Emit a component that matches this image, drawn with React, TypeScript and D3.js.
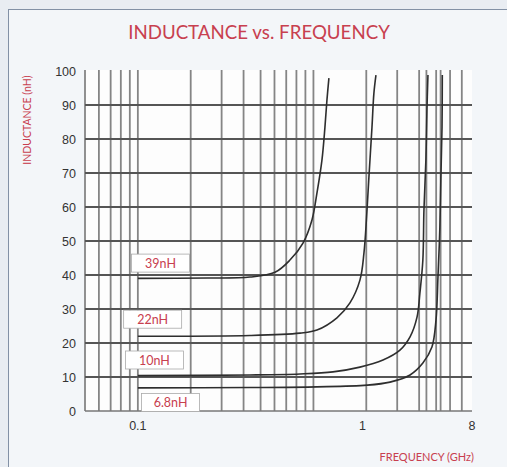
import React from "react";
import * as d3 from "d3";

// ---- data ----
const freq39 = [0.1, 0.25, 0.435, 0.604, 0.735, 0.872, 0.981, 1.047, 1.118, 1.163, 1.194, 1.225];
const val39 = [39, 39.1, 39.4, 40.8, 44.4, 49.4, 56.2, 64.1, 73.8, 83.5, 91.5, 97.9];

const freq22 = [0.1, 0.435, 0.838, 1.047, 1.361, 1.614, 1.84, 1.94, 2.01, 2.07, 2.155, 2.21, 2.27];
const val22 = [22, 22.2, 22.9, 23.8, 27.4, 31.8, 38.5, 46.5, 57.5, 68.8, 83.5, 93.5, 98.8];

const freq10 = [0.1, 0.435, 0.838, 1.292, 1.84, 2.49, 3.11, 3.55, 3.89, 4.04, 4.2, 4.26, 4.37, 4.43, 4.49];
const val10 = [10.4, 10.6, 10.9, 11.5, 12.9, 15, 17.9, 21.8, 27.6, 34.7, 44.4, 59.1, 73.8, 88.5, 98.8];

const freq68 = [0.1, 0.435, 1.047, 2.02, 2.73, 3.55, 4.2, 4.73, 4.99, 5.12, 5.25, 5.32, 5.4, 5.42];
const val68 = [6.8, 6.9, 7.1, 7.6, 8.5, 10.6, 14.1, 18.8, 26.8, 39.4, 54.1, 68.8, 83.5, 98.8];

const seriesNames = ["39nH", "22nH", "10nH", "6.8nH"];
// label anchor (left edge frequency, centre value)
const labelFreq = [0.092, 0.083, 0.085, 0.105];
const labelVal = [43.5, 27, 15, 2.5];

const yTicks = [0, 10, 20, 30, 40, 50, 60, 70, 80, 90, 100];
const yGrid = [10, 20, 30, 40, 50, 60, 70, 80, 90];
const xGrid = [0.05, 0.06, 0.07, 0.08, 0.09, 0.1, 0.2, 0.3, 0.4, 0.5, 0.6, 0.7, 0.8, 0.9, 1, 2, 3, 4, 4.4, 5, 5.3, 6, 7];
const xTickLabels = ["0.1", "1", "8"];
const xTickAt = [0.1, 1.9, 8];

export default function App() {
  const W = 507, H = 467;
  const x = d3.scaleLog().domain([0.05, 8]).range([85, 472]);
  const y = d3.scaleLinear().domain([0, 100]).range([411, 71]);
  const line = d3
    .line<[number, number]>()
    .x((d) => x(d[0]))
    .y((d) => y(d[1]))
    .curve(d3.curveCatmullRom.alpha(0.5));
  const series = [
    [freq39, val39],
    [freq22, val22],
    [freq10, val10],
    [freq68, val68],
  ].map(([f, v]) => f.map((fi, i) => [fi, v[i]] as [number, number]));

  const red = "#c8404f";
  const font = "'Liberation Sans', Arial, sans-serif";
  const titleFont = "Lato, 'Open Sans', sans-serif";

  return (
    <svg width={W} height={H} style={{ position: "absolute", left: 0, top: 0 }}>
      <rect x={0} y={0} width={W} height={H} fill="#e9edf2" />
      <rect x={8.5} y={9.5} width={W} height={H} fill="#f3f6f9" stroke="#8391a5" strokeWidth={1} />
      <text x={259} y={39} textAnchor="middle" fontFamily={titleFont} fontSize={18.7} fill={red}>
        INDUCTANCE vs. FREQUENCY
      </text>
      <text
        transform={`translate(31,120) rotate(-90)`}
        textAnchor="middle"
        fontFamily={titleFont}
        fontSize={10.5}
        fill={red}
      >
        INDUCTANCE (nH)
      </text>
      {/* plot background */}
      <rect x={x(0.05)} y={y(100) - 1} width={x(8) - x(0.05)} height={y(0) - y(100) + 1} fill="#fdfdfd" />
      {/* vertical grid */}
      {xGrid.map((g, i) => (
        <line key={"vx" + i} x1={x(g)} x2={x(g)} y1={y(100) - 1} y2={y(0)} stroke="#858585" strokeWidth={1.8} />
      ))}
      {/* horizontal grid */}
      {yGrid.map((g, i) => (
        <line key={"hy" + i} x1={x(0.05)} x2={x(8)} y1={y(g)} y2={y(g)} stroke="#555" strokeWidth={2.2} />
      ))}
      <line x1={x(0.05)} x2={x(8)} y1={y(0)} y2={y(0)} stroke="#777" strokeWidth={1.5} />
      {/* y tick labels */}
      {yTicks.map((t) => (
        <text key={"yt" + t} x={76} y={y(t) + 4.5} textAnchor="end" fontFamily={font} fontSize={12.5} fill="#333">
          {t}
        </text>
      ))}
      {/* x tick labels */}
      {xTickLabels.map((t, i) => (
        <text key={"xt" + t} x={x(xTickAt[i])} y={430} textAnchor="middle" fontFamily={font} fontSize={12.5} fill="#333">
          {t}
        </text>
      ))}
      <text x={474} y={461} textAnchor="end" fontFamily={titleFont} fontSize={11} fill={red}>
        FREQUENCY (GHz)
      </text>
      {/* curves */}
      {series.map((s, i) => (
        <path key={"s" + i} d={line(s) || ""} fill="none" stroke="#2e2e2e" strokeWidth={1.6} />
      ))}
      {/* labels */}
      {seriesNames.map((n, i) => {
        const lx = x(labelFreq[i]);
        const ly = y(labelVal[i]);
        return (
          <g key={"l" + n}>
            <rect x={lx} y={ly - 9} width={58} height={18} fill="#fff" stroke="#aaa" strokeWidth={0.8} />
            <text x={lx + 29} y={ly + 4.5} textAnchor="middle" fontFamily={titleFont} fontSize={12.5} fill={red}>
              {n}
            </text>
          </g>
        );
      })}
    </svg>
  );
}
